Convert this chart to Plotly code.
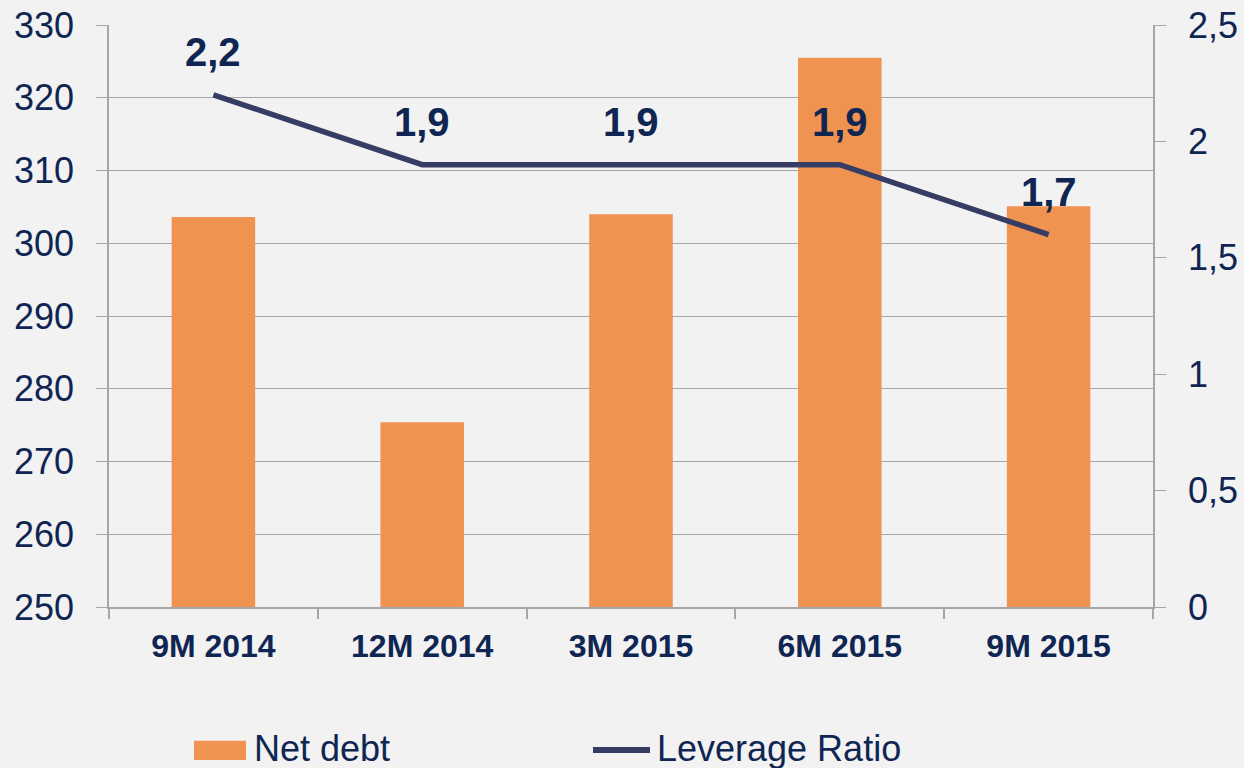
import plotly.graph_objects as go

periods = ["9M 2014", "12M 2014", "3M 2015", "6M 2015", "9M 2015"]
net_debt = [303.6, 275.4, 304.0, 325.5, 305.1]
leverage = [2.2, 1.9, 1.9, 1.9, 1.6]
leverage_labels = ["2,2", "1,9", "1,9", "1,9", "1,7"]

NAVY = "#0f2552"
ORANGE = "#f09250"
LINE = "#353d65"
GRID = "#a6a6a6"
BG = "#f2f2f2"
FONT = "Liberation Sans, Arial, sans-serif"

fig = go.Figure()
fig.add_trace(go.Bar(x=periods, y=net_debt, name="Net debt",
                     marker=dict(color=ORANGE, line=dict(width=0)),
                     showlegend=False))
fig.add_trace(go.Scatter(x=periods, y=leverage, name="Leverage Ratio",
                         yaxis="y2", mode="lines",
                         line=dict(color=LINE, width=5.5),
                         showlegend=False))

# data labels above the line points
for p, v, t in zip(periods, leverage, leverage_labels):
    fig.add_annotation(x=p, y=v, yref="y2", text=t, showarrow=False,
                       yshift=43, font=dict(family=FONT, size=40, color=NAVY,
                                            weight="bold"))

# hand-made legend (wide swatches like the original)
fig.add_shape(type="rect", xref="paper", yref="paper",
              x0=0.0814, x1=0.1312, y0=-0.263, y1=-0.230,
              fillcolor=ORANGE, line=dict(width=0))
fig.add_shape(type="line", xref="paper", yref="paper",
              x0=0.4636, x1=0.5182, y0=-0.2457, y1=-0.2457,
              line=dict(color=LINE, width=6))
fig.add_annotation(xref="paper", yref="paper", x=0.137, y=-0.2425,
                   xanchor="left", yanchor="middle", text="Net debt",
                   showarrow=False, font=dict(family=FONT, size=36, color=NAVY))
fig.add_annotation(xref="paper", yref="paper", x=0.523, y=-0.2425,
                   xanchor="left", yanchor="middle", text="Leverage Ratio",
                   showarrow=False, font=dict(family=FONT, size=36, color=NAVY))

fig.update_layout(
    width=1244, height=768,
    margin=dict(l=109, r=91, t=25, b=161, autoexpand=False),
    paper_bgcolor=BG, plot_bgcolor=BG,
    separators=", ",
    bargap=0.6,
    font=dict(family=FONT, color=NAVY),
    xaxis=dict(showline=True, linecolor=GRID, linewidth=1.5, automargin=False,
               ticks="outside", tickson="boundaries", ticklen=10,
               tickcolor=GRID, tickwidth=1.5, ticklabelstandoff=10,
               tickfont=dict(size=32, color=NAVY, weight="bold")),
    yaxis=dict(range=[250, 330], dtick=10, showgrid=True, gridcolor=GRID,
               gridwidth=1, showline=True, linecolor=GRID, linewidth=1.5,
               ticks="outside", ticklen=11, tickcolor=GRID, automargin=False,
               ticklabelstandoff=15, zeroline=False,
               tickfont=dict(size=36, color=NAVY)),
    yaxis2=dict(range=[0, 2.5], dtick=0.5, overlaying="y", side="right",
                showgrid=False, showline=True, linecolor=GRID, linewidth=1.5,
                ticks="outside", ticklen=11, tickcolor=GRID, automargin=False,
                ticklabelstandoff=15, zeroline=False,
                tickfont=dict(size=36, color=NAVY)),
)

fig.write_html("out.html", config={"displayModeBar": False},
               post_script="document.body.style.margin='0px';"
                           "document.body.style.overflow='hidden';")
